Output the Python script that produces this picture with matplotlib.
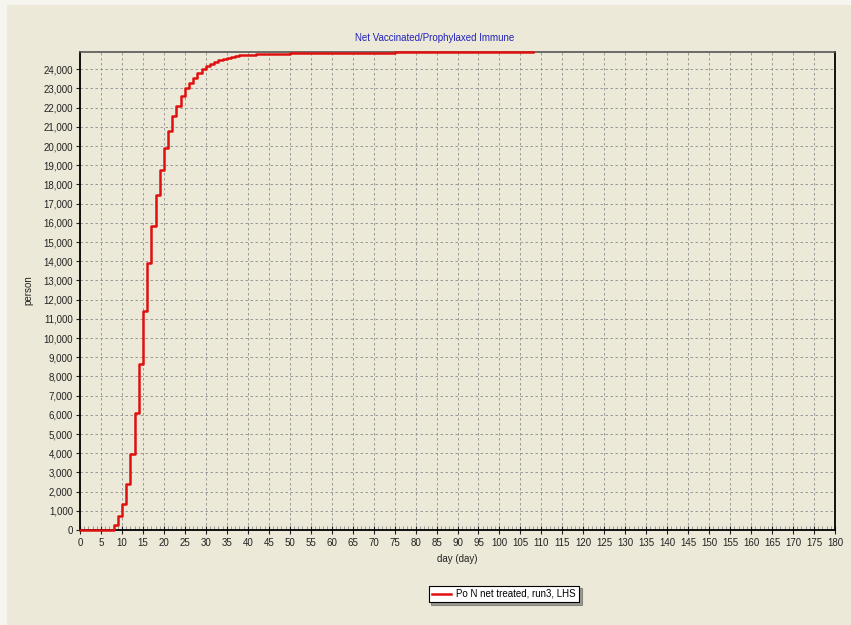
import matplotlib
matplotlib.use("Agg")
import matplotlib.pyplot as plt
from matplotlib.ticker import MultipleLocator, FuncFormatter
from matplotlib.patches import Rectangle

days = [0, 8, 9, 10, 11, 12, 13, 14, 15, 16, 17, 18, 19, 20, 21, 22, 23, 24, 25,
        26, 27, 28, 29, 30, 31, 32, 33, 34, 35, 36, 37, 38, 40, 42, 45, 50, 55,
        60, 75, 90, 108]
values = [0, 260, 730, 1350, 2380, 3950, 6090, 8650, 11400, 13900, 15850, 17450,
          18750, 19900, 20800, 21550, 22100, 22600, 23000, 23300, 23550, 23800,
          24000, 24150, 24300, 24400, 24480, 24550, 24600, 24650, 24690, 24720,
          24760, 24790, 24820, 24845, 24860, 24870, 24878, 24882, 24885]

title = "Net Vaccinated/Prophylaxed Immune"
series_label = "Po N net treated, run3, LHS"
xlabel = "day (day)"
ylabel = "person"

plt.rcParams["font.family"] = ["Liberation Sans", "DejaVu Sans"]
bg = "#ECE9D8"
W, H = 851, 625
fig = plt.figure(figsize=(W / 100, H / 100), dpi=100, facecolor="#F6F5EF")
fig.patches.append(Rectangle((7 / W, 0), 1, 1 - 5 / H, transform=fig.transFigure,
                             facecolor=bg, edgecolor="none", zorder=-10))

ax = fig.add_axes([80 / W, 1 - 530 / H, (835 - 80) / W, (530 - 52) / H])
ax.set_facecolor(bg)
ax.step(days, values, where="post", color="#E01010", lw=1.8, label=series_label,
        zorder=3, clip_on=False)

ax.set_xlim(0, 180)
ax.set_ylim(0, 24900)
ax.xaxis.set_major_locator(MultipleLocator(5))
ax.xaxis.set_minor_locator(MultipleLocator(1))
ax.yaxis.set_major_locator(MultipleLocator(1000))
ax.yaxis.set_major_formatter(FuncFormatter(lambda v, p: f"{int(v):,}"))

ax.grid(True, which="major", color="#8C8C8C", ls=(0, (3, 3)), lw=0.6)
ax.tick_params(axis="x", which="major", direction="inout", length=6, width=0.8,
               labelsize=7, pad=3, colors="#222222")
ax.tick_params(axis="x", which="minor", direction="in", length=3, width=0.5,
               colors="#777777")
ax.tick_params(axis="y", which="major", direction="out", length=3, width=0.8,
               labelsize=7, pad=2, colors="#222222")
for s in ["left", "bottom", "right"]:
    ax.spines[s].set_color("black")
    ax.spines[s].set_linewidth(1.3)
ax.spines["top"].set_color("#555555")
ax.spines["top"].set_linewidth(1.2)

fig.text(435 / W, 1 - 38 / H, title, color="#2222BB", fontsize=7,
         ha="center", va="center")
fig.text(457 / W, 1 - 559 / H, xlabel, color="#222222", fontsize=7,
         ha="center", va="center")
fig.text(28 / W, 1 - 290 / H, ylabel, color="#222222", fontsize=7,
         ha="center", va="center", rotation=90)

leg = fig.legend(loc="center", bbox_to_anchor=(504 / W, 1 - 594 / H), fontsize=7,
                 frameon=True, fancybox=False, shadow=True, handlelength=2.0,
                 borderpad=0.35, handletextpad=0.5)
leg.get_frame().set_edgecolor("black")
leg.get_frame().set_facecolor("white")
leg.get_frame().set_linewidth(0.8)

fig.savefig("out.png", dpi=100, facecolor=fig.get_facecolor())
